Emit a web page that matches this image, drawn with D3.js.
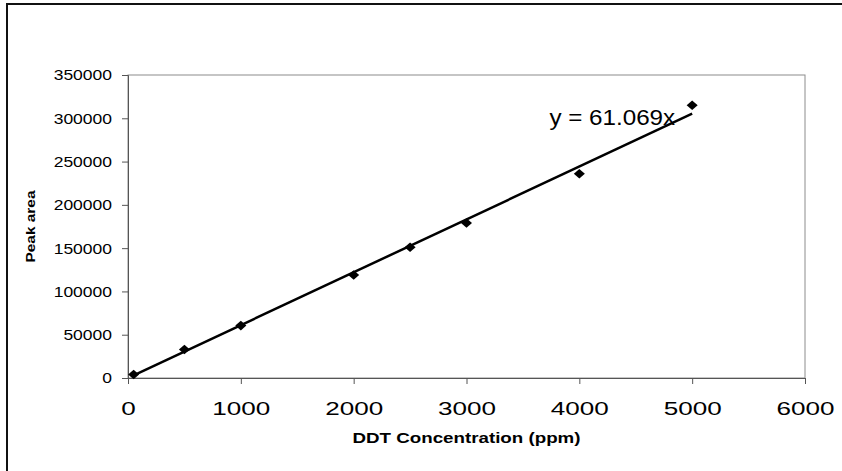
<!DOCTYPE html>
<html>
<head>
<meta charset="utf-8">
<script src="https://cdn.jsdelivr.net/npm/d3@7/dist/d3.min.js"></script>
<style>
  body { margin: 0; background: #fff; }
  text { font-family: "Liberation Sans", Arial, sans-serif; fill: #000; }
</style>
</head>
<body>
<div id="chart"></div>
<script>
var concentration = [50, 500, 1000, 2000, 2500, 3000, 4000, 5000];
var peakArea = [4000, 33000, 60500, 119000, 151000, 179000, 236000, 315000];
var slope = 61.069;
var equationLabel = "y = 61.069x";
var xTicks = [0, 1000, 2000, 3000, 4000, 5000, 6000];
var yTicks = [0, 50000, 100000, 150000, 200000, 250000, 300000, 350000];
var xTitle = "DDT Concentration (ppm)";
var yTitle = "Peak area";

var svgWidth = 842;
var svgHeight = 471;

var margin = {
  top: 75,
  right: 37,
  bottom: 93,
  left: 128
};

var width = svgWidth - margin.left - margin.right;
var height = svgHeight - margin.top - margin.bottom;

var svg = d3.select("#chart")
  .append("svg")
  .attr("width", svgWidth)
  .attr("height", svgHeight);

// outer chart frame (runs off the right and bottom of the picture)
svg.append("rect")
  .attr("x", 7)
  .attr("y", 4)
  .attr("width", 900)
  .attr("height", 600)
  .attr("fill", "none")
  .attr("stroke", "#111")
  .attr("stroke-width", 2);

var chartGroup = svg.append("g")
  .attr("transform", `translate(${margin.left}, ${margin.top})`);

var data = concentration.map(function (c, i) {
  return { x: c, y: peakArea[i] };
});

var xScale = d3.scaleLinear()
  .domain([0, d3.max(xTicks)])
  .range([0, width]);

var yScale = d3.scaleLinear()
  .domain([0, d3.max(yTicks)])
  .range([height, 0]);

// plot area border
chartGroup.append("rect")
  .attr("width", width)
  .attr("height", height)
  .attr("fill", "none")
  .attr("stroke", "#8c8c8c")
  .attr("stroke-width", 1);

var bottomAxis = d3.axisBottom(xScale)
  .tickValues(xTicks)
  .tickFormat(d3.format("d"))
  .tickSizeOuter(0)
  .tickSize(6);
var leftAxis = d3.axisLeft(yScale)
  .tickValues(yTicks)
  .tickFormat(d3.format("d"))
  .tickSizeOuter(0)
  .tickSize(6);

var xAxisG = chartGroup.append("g")
  .attr("transform", `translate(0, ${height})`)
  .call(bottomAxis);

xAxisG.selectAll("text")
  .attr("y", 0)
  .attr("dy", 0)
  .attr("transform", "translate(0,37) scale(1.45,1)")
  .style("font-size", "18px");

var yAxisG = chartGroup.append("g")
  .call(leftAxis);

yAxisG.selectAll("text")
  .attr("x", 0)
  .attr("dy", "0.35em")
  .attr("transform", "translate(-16,0) scale(1.25,1)")
  .style("font-size", "14px");

chartGroup.selectAll(".domain, .tick line")
  .attr("stroke", "#555")
  .attr("stroke-width", 1);

// trendline through the origin
var lineData = [d3.min(concentration), d3.max(concentration)].map(function (c) {
  return { x: c, y: slope * c };
});

chartGroup.append("path")
  .datum(lineData)
  .attr("fill", "none")
  .attr("stroke", "#000")
  .attr("stroke-width", 2.5)
  .attr("d", d3.line().x(d => xScale(d.x)).y(d => yScale(d.y)));

// diamond markers
chartGroup.selectAll(".marker")
  .data(data)
  .enter()
  .append("path")
  .attr("class", "marker")
  .attr("d", d3.symbol().type(d3.symbolSquare).size(46))
  .attr("transform", d => `translate(${xScale(d.x)}, ${yScale(d.y)}) scale(1.15,1) rotate(45)`)
  .attr("fill", "#000");

// trendline equation
chartGroup.append("text")
  .attr("transform", `translate(${xScale(d3.max(concentration)) - 17}, ${yScale(slope * d3.max(concentration)) + 11}) scale(1.1,1)`)
  .attr("text-anchor", "end")
  .style("font-size", "22px")
  .text(equationLabel);

// axis titles
chartGroup.append("text")
  .attr("x", width / 2)
  .attr("y", height + 65)
  .attr("text-anchor", "middle")
  .attr("textLength", 228)
  .attr("lengthAdjust", "spacingAndGlyphs")
  .style("font-size", "15px")
  .style("font-weight", "bold")
  .text(xTitle);

chartGroup.append("text")
  .attr("transform", `translate(${35 - margin.left}, ${height / 2}) rotate(-90)`)
  .attr("text-anchor", "middle")
  .attr("textLength", 72)
  .attr("lengthAdjust", "spacingAndGlyphs")
  .style("font-size", "13px")
  .style("font-weight", "bold")
  .text(yTitle);
</script>
</body>
</html>
